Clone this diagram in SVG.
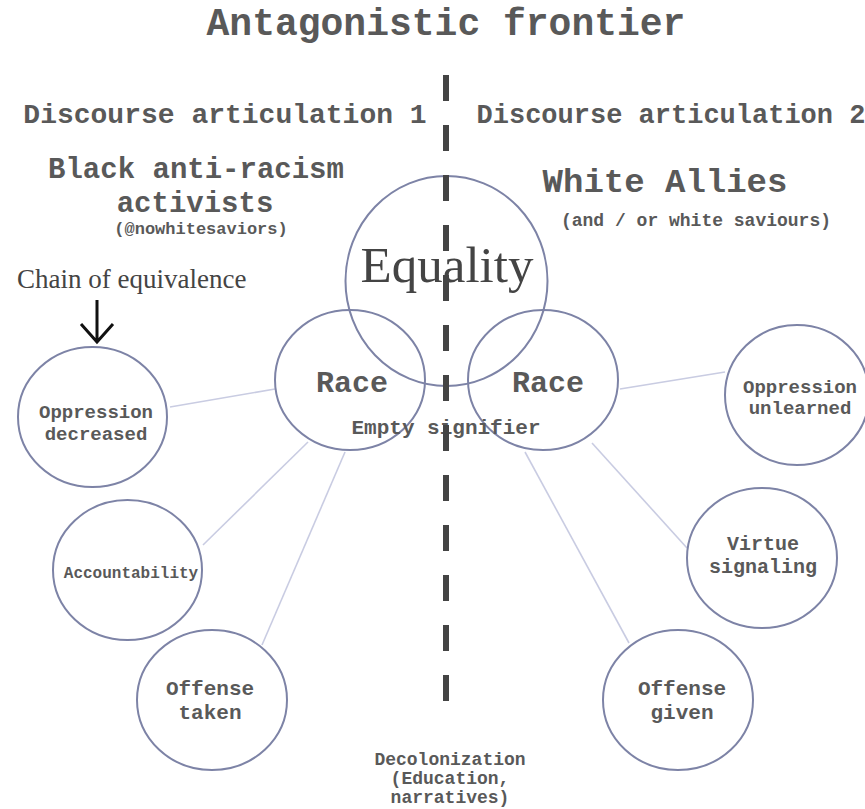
<svg xmlns="http://www.w3.org/2000/svg" width="865" height="809" viewBox="0 0 865 809">
<style>
.m{font-family:"Liberation Mono","Courier New",monospace;font-weight:bold;fill:#595959;text-anchor:middle}
.s{font-family:"Liberation Serif","Times New Roman",serif;fill:#444}
.c{fill:none;stroke:#7d83a6;stroke-width:2}
.l{stroke:#c9cce2;stroke-width:1.6;fill:none}
</style>
<rect width="865" height="809" fill="#fff"/>
<text class="m" x="446" y="35" font-size="38">Antagonistic frontier</text>
<g id="heading-left">
<text class="m" x="225" y="123" font-size="28">Discourse articulation 1</text>
<text class="m" x="196" y="178" font-size="29">Black anti-racism</text>
<text class="m" x="195" y="212" font-size="29">activists</text>
<text class="m" x="201" y="234" font-size="17">(@nowhitesaviors)</text>
</g>
<g id="heading-right">
<text class="m" x="671" y="123" font-size="27">Discourse articulation 2</text>
<text class="m" x="665" y="192" font-size="34">White Allies</text>
<text class="m" x="696" y="226" font-size="18">(and / or white saviours)</text>
</g>
<g id="chain-label">
<text class="s" x="17" y="288" font-size="27">Chain of equivalence</text>
<path d="M97 300V342M81 324L97 342L113 324" stroke="#111" stroke-width="3" fill="none"/>
</g>
<g id="connectors">
<line class="l" x1="275" y1="389" x2="170" y2="407"/>
<line class="l" x1="308" y1="442" x2="203" y2="545"/>
<line class="l" x1="345" y1="452" x2="262" y2="645"/>
<line class="l" x1="620" y1="389" x2="725" y2="372"/>
<line class="l" x1="592" y1="443" x2="687" y2="548"/>
<line class="l" x1="525" y1="452" x2="629" y2="643"/>
</g>
<g id="equality">
<ellipse class="c" cx="446.5" cy="281" rx="101" ry="105"/>
<text class="s" x="447" y="282" font-size="51" text-anchor="middle">Equality</text>
</g>
<g id="race-left">
<ellipse class="c" cx="350" cy="380" rx="75" ry="70"/>
<text class="m" x="352" y="392" font-size="30">Race</text>
</g>
<g id="race-right">
<ellipse class="c" cx="543" cy="380" rx="75" ry="70"/>
<text class="m" x="548" y="392" font-size="30">Race</text>
</g>
<text class="m" x="446" y="434" font-size="21">Empty signifier</text>
<g id="oppression-decreased">
<ellipse class="c" cx="92.5" cy="417" rx="74.5" ry="70"/>
<text class="m" x="96" y="418" font-size="19">Oppression</text>
<text class="m" x="96" y="440" font-size="19">decreased</text>
</g>
<g id="accountability">
<ellipse class="c" cx="127.5" cy="570" rx="74.5" ry="70"/>
<text class="m" x="131" y="578" font-size="16">Accountability</text>
</g>
<g id="offense-taken">
<ellipse class="c" cx="212" cy="700" rx="75" ry="70"/>
<text class="m" x="210" y="695" font-size="21">Offense</text>
<text class="m" x="210" y="719" font-size="21">taken</text>
</g>
<g id="oppression-unlearned">
<ellipse class="c" cx="797" cy="395" rx="72" ry="70"/>
<text class="m" x="800" y="393" font-size="19">Oppression</text>
<text class="m" x="800" y="414" font-size="19">unlearned</text>
</g>
<g id="virtue-signaling">
<ellipse class="c" cx="762" cy="558" rx="75" ry="70"/>
<text class="m" x="763" y="550" font-size="20">Virtue</text>
<text class="m" x="763" y="573" font-size="20">signaling</text>
</g>
<g id="offense-given">
<ellipse class="c" cx="678" cy="700" rx="75" ry="70"/>
<text class="m" x="682" y="695" font-size="21">Offense</text>
<text class="m" x="682" y="719" font-size="21">given</text>
</g>
<g id="decolonization">
<text class="m" x="450" y="765" font-size="18">Decolonization</text>
<text class="m" x="450" y="784" font-size="18">(Education,</text>
<text class="m" x="450" y="803" font-size="18">narratives)</text>
</g>
<g id="frontier">
<line x1="446" y1="75" x2="446" y2="701" stroke="#444" stroke-width="6" stroke-dasharray="26 24"/>
</g>
</svg>
